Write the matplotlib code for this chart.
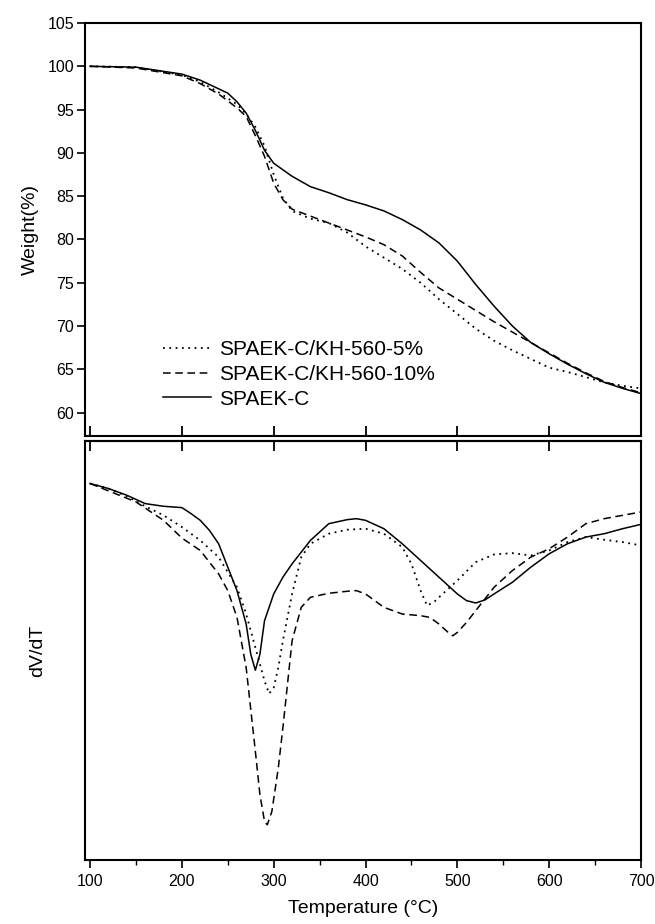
import matplotlib
matplotlib.use('Agg')
import matplotlib.pyplot as plt
from matplotlib.ticker import MultipleLocator

plt.rcParams['font.family'] = ['Liberation Sans', 'DejaVu Sans']

# TGA data (weight %)
t_solid = [100, 150, 200, 220, 240, 250, 260, 270, 280, 290, 300, 320, 340, 360, 380,
           400, 420, 440, 460, 480, 500, 520, 540, 560, 580, 600, 620, 640, 660, 680, 700]
w_solid = [100.0, 99.9, 99.1, 98.4, 97.4, 96.9, 95.9, 94.6, 92.6, 90.3, 88.8, 87.3, 86.1, 85.4, 84.6,
           84.0, 83.3, 82.3, 81.1, 79.6, 77.5, 74.8, 72.3, 70.0, 68.1, 66.8, 65.6, 64.5, 63.5, 62.8, 62.2]

t_dash = [100, 150, 200, 220, 240, 260, 270, 280, 290, 300, 310, 320, 340, 360, 380, 400,
          420, 440, 460, 480, 500, 520, 540, 560, 580, 600, 620, 640, 660, 680, 700]
w_dash = [100.0, 99.8, 98.9, 98.0, 96.8, 95.2, 94.2, 92.0, 89.6, 86.5, 84.6, 83.5, 82.7, 81.9, 81.1, 80.3,
          79.4, 78.1, 76.2, 74.4, 73.1, 71.8, 70.5, 69.3, 68.1, 66.9, 65.7, 64.6, 63.6, 62.9, 62.3]

t_dot = [100, 150, 200, 220, 240, 260, 270, 280, 290, 300, 310, 320, 340, 360, 380, 400,
         420, 440, 460, 480, 500, 520, 540, 560, 580, 600, 620, 640, 660, 680, 700]
w_dot = [100.0, 99.9, 99.0, 98.2, 97.0, 95.6, 94.5, 93.0, 90.8, 87.5, 84.8, 83.3, 82.4, 81.9, 80.8, 79.2,
         77.9, 76.6, 75.0, 73.1, 71.4, 69.7, 68.3, 67.2, 66.2, 65.2, 64.7, 64.1, 63.5, 63.1, 62.8]

# DTG data (arbitrary units)
d_t_solid = [100, 120, 140, 160, 180, 200, 210, 220, 230, 240, 250, 260, 270, 275, 280, 285, 290,
             300, 310, 320, 340, 360, 380, 390, 400, 420, 440, 460, 480, 500, 510, 520, 530, 540,
             560, 580, 600, 620, 640, 660, 680, 700]
d_solid = [-127, -142, -162, -187, -195, -199, -217, -237, -267, -307, -377, -447, -547, -637, -685, -637, -537,
           -457, -407, -367, -297, -247, -235, -232, -237, -262, -307, -357, -407, -457, -477, -484, -475, -457,
           -422, -377, -337, -307, -287, -277, -262, -249]

d_t_dot = [100, 120, 140, 160, 180, 200, 220, 240, 260, 270, 280, 285, 290, 295, 300, 305, 310, 320,
           330, 340, 360, 380, 400, 420, 440, 450, 460, 467, 475, 480, 500, 520, 540, 560, 580, 600,
           620, 640, 660, 680, 700]
d_dot = [-127, -142, -165, -195, -222, -257, -297, -347, -437, -517, -617, -667, -717, -755, -737, -677, -597, -457,
         -347, -307, -277, -265, -262, -277, -317, -367, -447, -492, -480, -467, -417, -362, -339, -335, -342, -327,
         -302, -287, -295, -302, -312]

d_t_dash = [100, 150, 180, 200, 220, 240, 250, 260, 270, 280, 285, 290, 293, 298, 305, 310, 315, 320,
            330, 340, 360, 380, 390, 400, 420, 440, 460, 470, 480, 490, 495, 500, 510, 520, 530, 540,
            560, 580, 600, 620, 640, 660, 680, 700]
d_dash = [-127, -182, -237, -290, -327, -397, -447, -527, -677, -927, -1057, -1137, -1147, -1107, -977, -857, -727, -597,
          -497, -467, -455, -449, -447, -457, -497, -517, -522, -527, -547, -572, -582, -572, -542, -507, -472, -437,
          -387, -347, -322, -287, -247, -232, -222, -212]

labels = ['SPAEK-C/KH-560-5%', 'SPAEK-C/KH-560-10%', 'SPAEK-C']

fig = plt.figure(figsize=(6.55, 9.24), dpi=100)
ax1 = fig.add_axes([0.1298, 0.5281, 0.8488, 0.4470])
ax2 = fig.add_axes([0.1298, 0.0693, 0.8488, 0.4534])

lw = 1.1
dotted = (0, (1, 2.5))
dashed = (0, (5, 3))
ax1.plot(t_dot, w_dot, color='black', lw=1.3, linestyle=dotted, label=labels[0])
ax1.plot(t_dash, w_dash, color='black', lw=lw, linestyle=dashed, label=labels[1])
ax1.plot(t_solid, w_solid, color='black', lw=lw, label=labels[2])

ax2.plot(d_t_dot, d_dot, color='black', lw=1.3, linestyle=dotted)
ax2.plot(d_t_dash, d_dash, color='black', lw=lw, linestyle=dashed)
ax2.plot(d_t_solid, d_solid, color='black', lw=lw)

for ax in (ax1, ax2):
    ax.set_xlim(94.5, 700)
    for s in ax.spines.values():
        s.set_linewidth(1.5)

# upper panel: weight
ax1.set_ylim(57.3, 105)
ax1.yaxis.set_major_locator(MultipleLocator(5))
ax1.xaxis.set_major_locator(MultipleLocator(100))
ax1.tick_params(axis='y', direction='out', length=6, width=1.2, labelsize=11.5, pad=2)
ax1.tick_params(axis='x', direction='in', length=7, width=1.3, labelbottom=False)
ax1.set_ylabel('Weight(%)', fontsize=14, labelpad=6)

ax1.legend(loc='lower left', bbox_to_anchor=(0.14, 0.066), frameon=False, fontsize=15,
           handlelength=2.3, handletextpad=0.4, labelspacing=0.28, borderpad=0, borderaxespad=0)

# lower panel: derivative
ax2.set_ylim(-1252, 0)
ax2.set_yticks([])
ax2.xaxis.set_major_locator(MultipleLocator(100))
ax2.xaxis.set_minor_locator(MultipleLocator(50))
ax2.tick_params(axis='x', which='major', direction='out', length=6, width=1.2, labelsize=11.5, pad=4)
ax2.tick_params(axis='x', which='minor', direction='out', length=3.5, width=1.0)
ax2.set_xlabel('Temperature (°C)', fontsize=14, labelpad=8)
ax2.set_ylabel('dV/dT', fontsize=14, labelpad=28)

top = ax2.secondary_xaxis('top')
top.xaxis.set_major_locator(MultipleLocator(100))
top.tick_params(axis='x', direction='in', length=7, width=1.3, labeltop=False)
top.spines['top'].set_linewidth(1.5)

fig.savefig('out.png', dpi=100)
